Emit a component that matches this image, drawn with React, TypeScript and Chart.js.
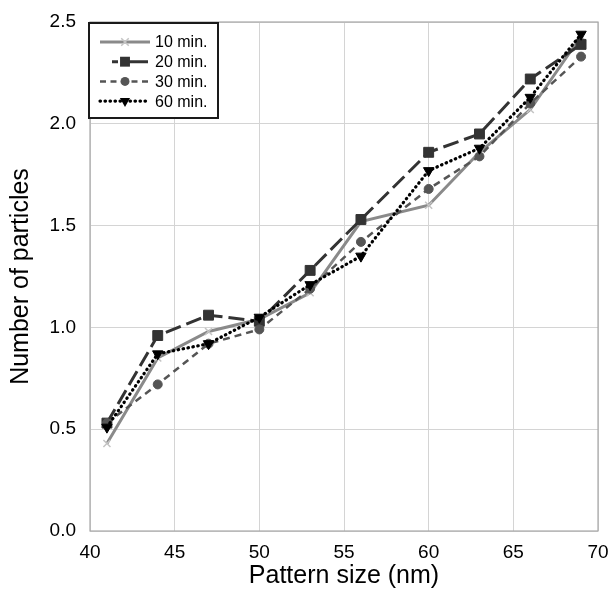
import React, { useEffect, useRef } from 'react';
import { Chart, registerables } from 'chart.js';

Chart.register(...registerables);

const patternSize = [41, 44, 47, 50, 53, 56, 60, 63, 66, 69];
const min10 = [0.43, 0.85, 0.98, 1.04, 1.17, 1.52, 1.6, 1.86, 2.07, 2.43];
const min20 = [0.53, 0.96, 1.06, 1.03, 1.28, 1.53, 1.86, 1.95, 2.22, 2.39];
const min30 = [0.53, 0.72, 0.92, 0.99, 1.19, 1.42, 1.68, 1.84, 2.1, 2.33];
const min60 = [0.51, 0.87, 0.92, 1.05, 1.21, 1.35, 1.77, 1.88, 2.13, 2.44];
const seriesLabels = ['10 min.', '20 min.', '30 min.', '60 min.'];
const seriesValues = [min10, min20, min30, min60];
const xTitle = 'Pattern size (nm)';
const yTitle = 'Number of particles';

const FONT = "'Liberation Sans', Arial, sans-serif";

type Style = {
  color: string;
  width: number;
  dash: number[];
  cap: CanvasLineCap;
  point: string;
  radius: number;
  pColor: string;
  pWidth: number;
  rot: number;
};

const styles: Style[] = [
  { color: '#8a8a8a', width: 3, dash: [], cap: 'butt', point: 'crossRot', radius: 5, pColor: '#c4c4c4', pWidth: 1.5, rot: 0 },
  { color: '#333333', width: 3, dash: [16, 6], cap: 'butt', point: 'rect', radius: 7, pColor: '#333333', pWidth: 1, rot: 0 },
  { color: '#555555', width: 2.5, dash: [7, 5], cap: 'butt', point: 'circle', radius: 4.5, pColor: '#555555', pWidth: 1, rot: 0 },
  { color: '#000000', width: 3.2, dash: [0.5, 4.5], cap: 'round', point: 'triangle', radius: 6, pColor: '#000000', pWidth: 1, rot: 180 },
];

function drawMarker(ctx: CanvasRenderingContext2D, s: Style, x: number, y: number, r: number) {
  ctx.save();
  ctx.setLineDash([]);
  ctx.fillStyle = s.pColor;
  ctx.strokeStyle = s.pColor;
  ctx.lineWidth = s.pWidth;
  if (s.point === 'crossRot') {
    const d = r * 0.75;
    ctx.beginPath();
    ctx.moveTo(x - d, y - d);
    ctx.lineTo(x + d, y + d);
    ctx.moveTo(x + d, y - d);
    ctx.lineTo(x - d, y + d);
    ctx.stroke();
  } else if (s.point === 'rect') {
    const h = r * Math.SQRT1_2;
    ctx.fillRect(x - h, y - h, 2 * h, 2 * h);
  } else if (s.point === 'circle') {
    ctx.beginPath();
    ctx.arc(x, y, r, 0, Math.PI * 2);
    ctx.fill();
  } else if (s.point === 'triangle') {
    ctx.beginPath();
    ctx.moveTo(x - r * 0.85, y - r * 0.5);
    ctx.lineTo(x + r * 0.85, y - r * 0.5);
    ctx.lineTo(x, y + r);
    ctx.closePath();
    ctx.fill();
  }
  ctx.restore();
}

const frameAndLegend = {
  id: 'frameAndLegend',
  beforeDatasetsDraw(chart: any) {
    const { ctx, chartArea: a } = chart;
    ctx.save();
    ctx.strokeStyle = '#a8a8a8';
    ctx.lineWidth = 1.2;
    ctx.strokeRect(a.left, a.top, a.right - a.left, a.bottom - a.top);
    ctx.restore();
  },
  afterDraw(chart: any) {
    const { ctx, chartArea: a } = chart;
    ctx.save();
    const bx = a.left - 1;
    const by = a.top + 1;
    const bw = 129;
    const bh = 95;
    ctx.fillStyle = '#ffffff';
    ctx.fillRect(bx, by, bw, bh);
    ctx.strokeStyle = '#1a1a1a';
    ctx.lineWidth = 2;
    ctx.strokeRect(bx, by, bw, bh);
    seriesLabels.forEach((label, i) => {
      const s = styles[i];
      const y = by + 19 + i * 19.7;
      const x0 = bx + 11;
      const x1 = bx + 61;
      const xm = (x0 + x1) / 2;
      ctx.save();
      ctx.strokeStyle = s.color;
      ctx.lineWidth = s.width;
      ctx.lineCap = s.cap;
      if (i === 1) {
        ctx.setLineDash([]);
        ctx.beginPath();
        ctx.moveTo(x0 + 12, y);
        ctx.lineTo(x0 + 18, y);
        ctx.moveTo(xm, y);
        ctx.lineTo(x1 - 2, y);
        ctx.stroke();
      } else {
        ctx.setLineDash(i === 2 ? [6, 4.5] : s.dash);
        ctx.beginPath();
        ctx.moveTo(x0, y);
        ctx.lineTo(x1, y);
        ctx.stroke();
      }
      ctx.restore();
      drawMarker(ctx, s, xm, y, s.radius);
      ctx.fillStyle = '#000000';
      ctx.font = `16px ${FONT}`;
      ctx.textBaseline = 'middle';
      ctx.textAlign = 'left';
      ctx.fillText(label, x1 + 5, y + 1);
    });
    ctx.restore();
  },
};

export default function App() {
  const ref = useRef<HTMLCanvasElement | null>(null);
  useEffect(() => {
    if (!ref.current) return;
    const datasets = seriesLabels.map((label, i) => {
      const s = styles[i];
      return {
        label,
        data: patternSize.map((x, j) => ({ x, y: seriesValues[i][j] })),
        borderColor: s.color,
        borderWidth: s.width,
        borderDash: s.dash,
        borderCapStyle: s.cap,
        backgroundColor: s.pColor,
        pointStyle: s.point,
        pointRadius: s.radius,
        pointRotation: s.rot,
        pointBorderColor: s.pColor,
        pointBackgroundColor: s.pColor,
        pointBorderWidth: s.pWidth,
        fill: false,
        tension: 0,
        order: i === 0 ? 4 : 4 - i,
      };
    });
    const chart = new Chart(ref.current, {
      type: 'line',
      data: { datasets } as any,
      options: {
        animation: false,
        responsive: true,
        maintainAspectRatio: false,
        layout: { padding: { top: 22, right: 12, left: 0, bottom: 0 } },
        plugins: { legend: { display: false }, tooltip: { enabled: false } },
        scales: {
          x: {
            type: 'linear',
            min: 40,
            max: 70,
            ticks: {
              stepSize: 5,
              padding: 10,
              color: '#000',
              font: { family: FONT, size: 19 },
            },
            grid: { color: '#d4d4d4', lineWidth: 1, drawTicks: false },
            border: { display: false },
            title: {
              display: true,
              text: xTitle,
              color: '#000',
              font: { family: FONT, size: 25 },
              padding: { top: 0, bottom: 8 },
            },
            afterFit: (scale: any) => {
              scale.height = 68;
              scale.paddingRight = 0;
              scale.paddingLeft = 0;
            },
          },
          y: {
            type: 'linear',
            min: 0,
            max: 2.5,
            ticks: {
              stepSize: 0.5,
              padding: 14,
              color: '#000',
              font: { family: FONT, size: 19 },
              callback: (v: any) => Number(v).toFixed(1),
            },
            grid: { color: '#d4d4d4', lineWidth: 1, drawTicks: false },
            border: { display: false },
            title: {
              display: true,
              text: yTitle,
              color: '#000',
              font: { family: FONT, size: 25 },
              padding: { top: 6, bottom: 0 },
            },
            afterFit: (scale: any) => {
              scale.width = 90;
              scale.paddingTop = 0;
              scale.paddingBottom = 0;
            },
          },
        },
      } as any,
      plugins: [frameAndLegend],
    });
    return () => chart.destroy();
  }, []);
  return (
    <div style={{ position: 'fixed', left: 0, top: 0, width: 610, height: 599, background: '#fff' }}>
      <canvas ref={ref} />
    </div>
  );
}
